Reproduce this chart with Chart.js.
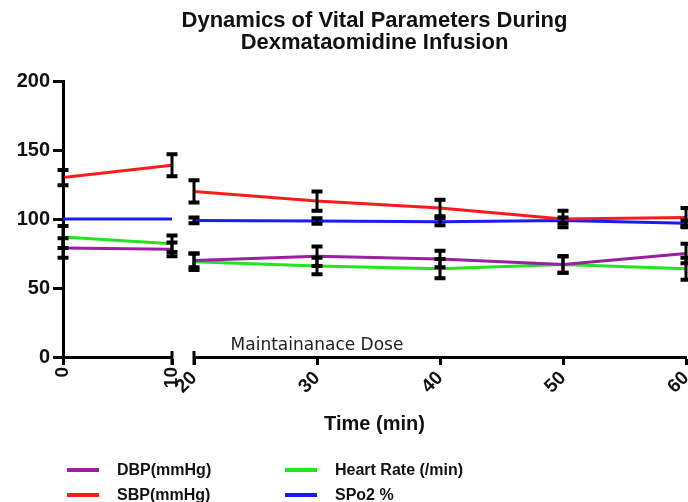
<!DOCTYPE html>
<html>
<head>
<meta charset="utf-8">
<title>Dynamics of Vital Parameters</title>
<script src="https://cdn.jsdelivr.net/npm/chart.js@4.4.1/dist/chart.umd.min.js"></script>
<style>
  html, body { margin: 0; padding: 0; background: #fff; }
  #wrap { position: relative; width: 688px; height: 502px; overflow: hidden; }
  #chart { position: absolute; left: 0; top: 0; }
  #legend {
    position: absolute; left: 67px; top: 457px;
    display: grid; grid-template-columns: 218px auto; grid-auto-rows: 25px;
    font: bold 16px 'Liberation Sans', Arial, sans-serif; color: #111;
  }
  .item { display: flex; align-items: center; white-space: nowrap; }
  .swatch { width: 32px; height: 4px; margin-right: 18px; }
</style>
</head>
<body>
<div id="wrap">
  <canvas id="chart" width="688" height="502"></canvas>
  <div id="legend"></div>
</div>
<script>
// time points (min), the axis is broken between 10 and 20
const timesBolus = [0, 10];
const timesMaint = [20, 30, 40, 50, 60];
const xTicksBolus = [0, 10];
const xTicksMaint = [20, 30, 40, 50, 60];
const yTicks = [0, 50, 100, 150, 200];

// means and error bars at 0, 10, 20, 30, 40, 50, 60 min
const dbp = [79, 78, 70, 73, 71, 67, 75];
const dbpErr = [7, 5, 5, 7, 6, 6, 7];
const hr = [87, 82, 69, 66, 64, 67, 64];
const hrErr = [8, 6, 6, 6, 7, 6, 8];
const sbp = [130, 139, 120, 113, 108, 100, 101];
const sbpErr = [5.5, 8, 8, 7, 6, 6, 7];
const spo2 = [100, 100, 99, 98.5, 98, 99, 97];
const spo2Err = [0, 0, 2, 2, 2.5, 2, 2];

const seriesNames = ['DBP(mmHg)', 'Heart Rate (/min)', 'SBP(mmHg)', 'SPo2 %'];
const seriesColors = ['#9b1fa3', '#1fe61f', '#ff1a1a', '#1a1aff'];
const seriesValues = [dbp, hr, sbp, spo2];
const seriesErrors = [dbpErr, hrErr, sbpErr, spo2Err];

const doseLabel = 'Maintainanace Dose';
const doseLabelAt = 30;

Chart.defaults.font.family = "'Liberation Sans', Arial, sans-serif";
Chart.defaults.color = '#111';

// each series is split in two datasets, one per axis segment
const datasets = [];
seriesNames.forEach((name, i) => {
    const n = timesBolus.length;
    const common = {
        label: name,
        borderColor: seriesColors[i],
        backgroundColor: seriesColors[i],
        borderWidth: 3,
        pointRadius: 0,
        pointHoverRadius: 0,
        fill: false
    };
    datasets.push({
        ...common,
        xAxisID: 'x1',
        showInLegend: true,
        data: timesBolus.map((t, j) => ({ x: t, y: seriesValues[i][j] })),
        errors: seriesErrors[i].slice(0, n)
    });
    datasets.push({
        ...common,
        xAxisID: 'x2',
        data: timesMaint.map((t, j) => ({ x: t, y: seriesValues[i][n + j] })),
        errors: seriesErrors[i].slice(n)
    });
});

// black error bars with caps, drawn over the lines
const errorBars = {
    id: 'errorBars',
    afterDatasetsDraw(chart) {
        const ctx = chart.ctx;
        const yScale = chart.scales.y;
        ctx.save();
        ctx.strokeStyle = '#000';
        chart.data.datasets.forEach((ds, i) => {
            const meta = chart.getDatasetMeta(i);
            meta.data.forEach((pt, j) => {
                const v = ds.data[j].y;
                const e = ds.errors[j];
                if (!e) return;
                const top = yScale.getPixelForValue(v + e);
                const bottom = yScale.getPixelForValue(v - e);
                ctx.lineWidth = 3;
                ctx.beginPath();
                ctx.moveTo(pt.x, top);
                ctx.lineTo(pt.x, bottom);
                ctx.stroke();
                ctx.lineWidth = 4;
                ctx.beginPath();
                ctx.moveTo(pt.x - 5.5, top);
                ctx.lineTo(pt.x + 5.5, top);
                ctx.moveTo(pt.x - 5.5, bottom);
                ctx.lineTo(pt.x + 5.5, bottom);
                ctx.stroke();
            });
        });
        ctx.restore();
    }
};

// end marks at the axis break and the dose label
const axisBreak = {
    id: 'axisBreak',
    afterDraw(chart) {
        const { ctx, chartArea, scales } = chart;
        const axisY = chartArea.bottom;
        ctx.save();
        ctx.strokeStyle = '#000';
        ctx.lineWidth = 3;
        [scales.x1.getPixelForValue(scales.x1.max), scales.x2.getPixelForValue(scales.x2.min)].forEach(px => {
            ctx.beginPath();
            ctx.moveTo(px, axisY - 6);
            ctx.lineTo(px, axisY + 8);
            ctx.stroke();
        });
        ctx.font = '17px "DejaVu Sans"';
        ctx.fillStyle = '#222';
        ctx.textAlign = 'center';
        ctx.fillText(doseLabel, scales.x2.getPixelForValue(doseLabelAt), axisY - 7);
        ctx.restore();
    }
};

function xAxis(ticks, min, max, weight, rotation) {
    return {
        type: 'linear',
        position: 'bottom',
        stack: 'time',
        stackWeight: weight,
        min: min,
        max: max,
        afterBuildTicks: s => { s.ticks = ticks.map(v => ({ value: v })); },
        afterFit: s => {
            s.height = 55;
            s.paddingLeft = 0;
            s.paddingRight = 0;
        },
        ticks: {
            autoSkip: false,
            minRotation: rotation,
            maxRotation: rotation,
            padding: 2,
            color: '#111',
            font: { size: 19, weight: 'bold' }
        },
        grid: { drawOnChartArea: false, tickLength: 8, tickWidth: 3, tickColor: '#000' },
        border: { color: '#000', width: 3 }
    };
}

const chart = new Chart(document.getElementById('chart'), {
    type: 'line',
    data: { datasets: datasets },
    options: {
        responsive: false,
        animation: false,
        devicePixelRatio: 1,
        layout: { padding: { left: 0, right: 2, top: 0, bottom: 66 }, autoPadding: false },
        plugins: {
            legend: { display: false },
            tooltip: { enabled: false },
            title: {
                display: true,
                fullSize: false,
                text: ['Dynamics of Vital Parameters During', 'Dexmataomidine Infusion'],
                color: '#111',
                font: { size: 22, weight: 'bold', lineHeight: 1.0 },
                padding: { top: 10, bottom: 27 }
            },
            subtitle: {
                display: true,
                fullSize: false,
                position: 'bottom',
                text: 'Time (min)',
                color: '#111',
                font: { size: 20, weight: 'bold', lineHeight: 1.2 },
                padding: 0
            }
        },
        scales: {
            y: {
                type: 'linear',
                min: 0,
                max: 200,
                afterBuildTicks: s => { s.ticks = yTicks.map(v => ({ value: v })); },
                afterFit: s => {
                    s.width = 63;
                    s.paddingTop = 0;
                    s.paddingBottom = 0;
                },
                ticks: { padding: 3, color: '#111', font: { size: 20, weight: 'bold' } },
                grid: { drawOnChartArea: false, tickLength: 10, tickWidth: 3, tickColor: '#000' },
                border: { color: '#000', width: 3 }
            },
            x1: xAxis(xTicksBolus, 0, 10, 109, 90),
            xgap: { type: 'linear', position: 'bottom', stack: 'time', stackWeight: 22, display: false },
            x2: xAxis(xTicksMaint, 20, 60, 492, 45)
        }
    },
    plugins: [errorBars, axisBreak]
});

// html legend in two columns
const legendEl = document.getElementById('legend');
chart.data.datasets.filter(d => d.showInLegend).forEach(d => {
    const item = document.createElement('div');
    item.className = 'item';
    const sw = document.createElement('span');
    sw.className = 'swatch';
    sw.style.background = d.borderColor;
    const txt = document.createElement('span');
    txt.textContent = d.label;
    item.appendChild(sw);
    item.appendChild(txt);
    legendEl.appendChild(item);
});
</script>
</body>
</html>
